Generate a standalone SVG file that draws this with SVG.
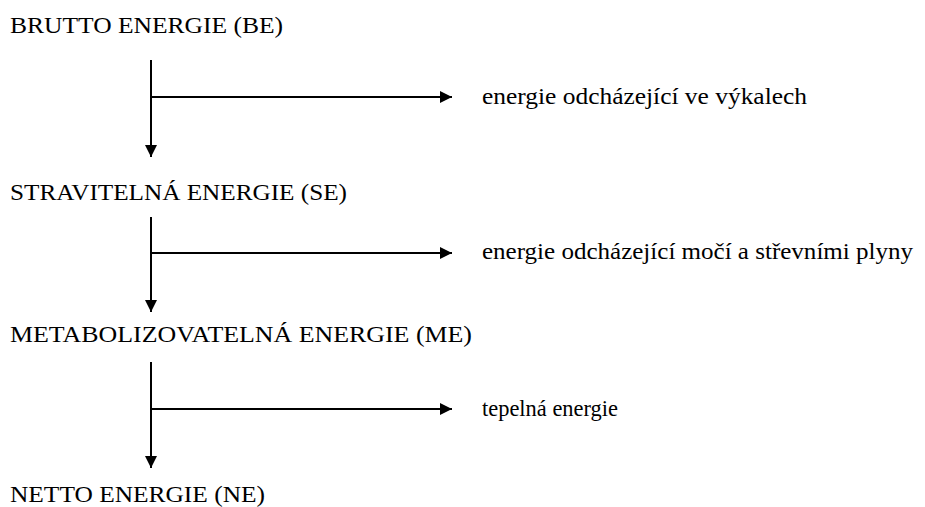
<svg xmlns="http://www.w3.org/2000/svg" width="925" height="507" viewBox="0 0 925 507">
<style>
text{font-family:"Liberation Serif",serif;font-size:24px;fill:#000}
.c line{stroke:#000;stroke-width:2}
</style>
<defs>
<marker id="ah" viewBox="0 0 12 12" refX="12" refY="6" markerWidth="12" markerHeight="12" markerUnits="userSpaceOnUse" orient="auto">
<path d="M0,0 L12,6 L0,12 z" fill="#000"/>
</marker>
</defs>
<rect width="925" height="507" fill="#fff"/>
<g class="c" id="connectors">
<line x1="151" y1="60" x2="151" y2="157" marker-end="url(#ah)"/>
<line x1="151" y1="97" x2="452" y2="97" marker-end="url(#ah)"/>
<line x1="151" y1="217" x2="151" y2="312" marker-end="url(#ah)"/>
<line x1="151" y1="253" x2="452" y2="253" marker-end="url(#ah)"/>
<line x1="151" y1="362" x2="151" y2="468" marker-end="url(#ah)"/>
<line x1="151" y1="409" x2="452" y2="409" marker-end="url(#ah)"/>
</g>
<g id="be"><text x="10" y="33" textLength="273" lengthAdjust="spacingAndGlyphs">BRUTTO ENERGIE (BE)</text></g>
<g id="vykaly"><text x="482" y="104" textLength="325" lengthAdjust="spacingAndGlyphs">energie odcházející ve výkalech</text></g>
<g id="se"><text x="10" y="200" textLength="337" lengthAdjust="spacingAndGlyphs">STRAVITELNÁ ENERGIE (SE)</text></g>
<g id="moc"><text x="482" y="259" textLength="431" lengthAdjust="spacingAndGlyphs">energie odcházející močí a střevními plyny</text></g>
<g id="me"><text x="10" y="342" textLength="462" lengthAdjust="spacingAndGlyphs">METABOLIZOVATELNÁ ENERGIE (ME)</text></g>
<g id="teplo"><text x="482" y="416" textLength="136" lengthAdjust="spacingAndGlyphs">tepelná energie</text></g>
<g id="ne"><text x="10" y="502" textLength="255" lengthAdjust="spacingAndGlyphs">NETTO ENERGIE (NE)</text></g>
</svg>
